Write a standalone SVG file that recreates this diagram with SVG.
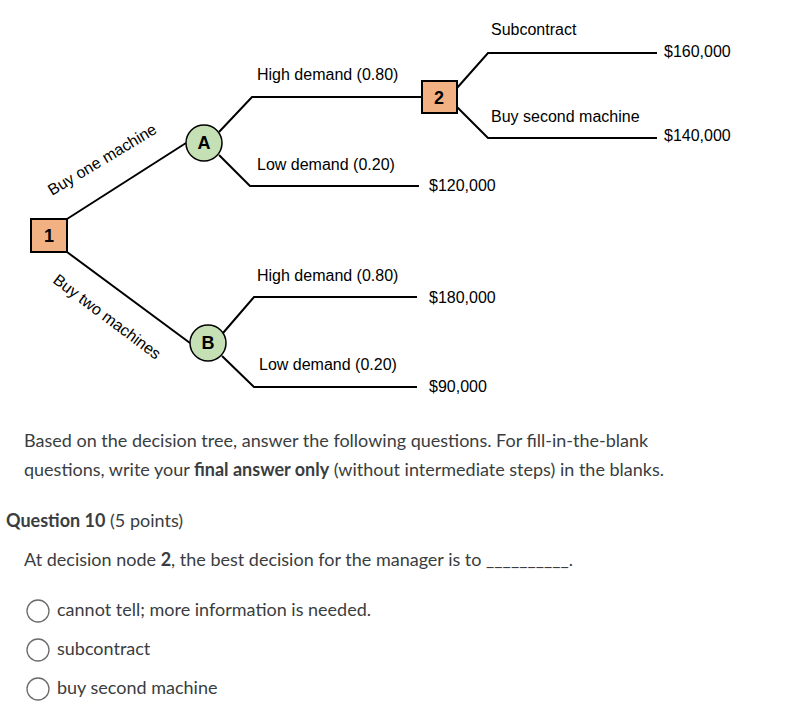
<svg xmlns="http://www.w3.org/2000/svg" width="792" height="721" viewBox="0 0 792 721">
<style>
.t{font-family:"Liberation Sans",Arial,sans-serif;font-size:16px;fill:#000}
.n{font-family:"Liberation Sans",Arial,sans-serif;font-size:18px;font-weight:bold;fill:#000;text-anchor:middle}
.sq{fill:#f2b183;stroke:#000;stroke-width:2}
.ci{fill:#c5e0b4;stroke:#000;stroke-width:1.5}
.e{fill:none;stroke:#000;stroke-width:2}
.q{font-family:Lato,"Open Sans",sans-serif;font-size:18px;fill:#3a3d40}
.rb{fill:#fff;stroke:#6b6b6b;stroke-width:1.3}
</style>
<rect width="792" height="721" fill="#fff"/>
<g id="connectors">
<path class="e" d="M67 219 L186 143"/>
<path class="e" d="M67 252 L190 343"/>
<path class="e" d="M219 132 L252 97 L422 97"/>
<path class="e" d="M219 155 L250 186 L419 186"/>
<path class="e" d="M223 333 L254 297 L417 297"/>
<path class="e" d="M222 356 L254 387 L417 387"/>
<path class="e" d="M457 88 L488 53 L657 53"/>
<path class="e" d="M457 107 L488 138 L657 138"/>
</g>
<g id="labels">
<text class="t" transform="translate(52,196) rotate(-31)">Buy one machine</text>
<text class="t" transform="translate(52,282) rotate(37)">Buy two machines</text>
<text class="t" x="257" y="80">High demand (0.80)</text>
<text class="t" x="257" y="170">Low demand (0.20)</text>
<text class="t" x="429" y="191">$120,000</text>
<text class="t" x="257" y="281">High demand (0.80)</text>
<text class="t" x="429" y="303">$180,000</text>
<text class="t" x="259" y="370">Low demand (0.20)</text>
<text class="t" x="429" y="392">$90,000</text>
<text class="t" x="491" y="35">Subcontract</text>
<text class="t" x="664" y="57">$160,000</text>
<text class="t" x="491" y="122">Buy second machine</text>
<text class="t" x="664" y="141">$140,000</text>
</g>
<g id="node1"><rect class="sq" x="31" y="219" width="36" height="33"/><text class="n" x="49" y="242">1</text></g>
<g id="nodeA"><circle class="ci" cx="204" cy="143" r="18"/><text class="n" x="204" y="149">A</text></g>
<g id="nodeB"><circle class="ci" cx="208" cy="343" r="18"/><text class="n" x="208" y="349">B</text></g>
<g id="node2"><rect class="sq" x="422" y="81" width="35" height="32"/><text class="n" x="439" y="104">2</text></g>
<g id="question">
<text class="q" x="24" y="447">Based on the decision tree, answer the following questions. For fill-in-the-blank</text>
<text class="q" x="24" y="476">questions, write your <tspan font-weight="bold">final answer only</tspan> (without intermediate steps) in the blanks.</text>
<text class="q" x="6" y="527"><tspan font-weight="bold">Question 10</tspan> (5 points)</text>
<text class="q" x="24" y="566">At decision node <tspan font-weight="bold">2</tspan>, the best decision for the manager is to __________.</text>
<circle class="rb" cx="38" cy="611" r="11"/>
<text class="q" x="57" y="616">cannot tell; more information is needed.</text>
<circle class="rb" cx="38" cy="650" r="11"/>
<text class="q" x="57" y="655">subcontract</text>
<circle class="rb" cx="38" cy="689" r="11"/>
<text class="q" x="57" y="694">buy second machine</text>
</g>
</svg>
